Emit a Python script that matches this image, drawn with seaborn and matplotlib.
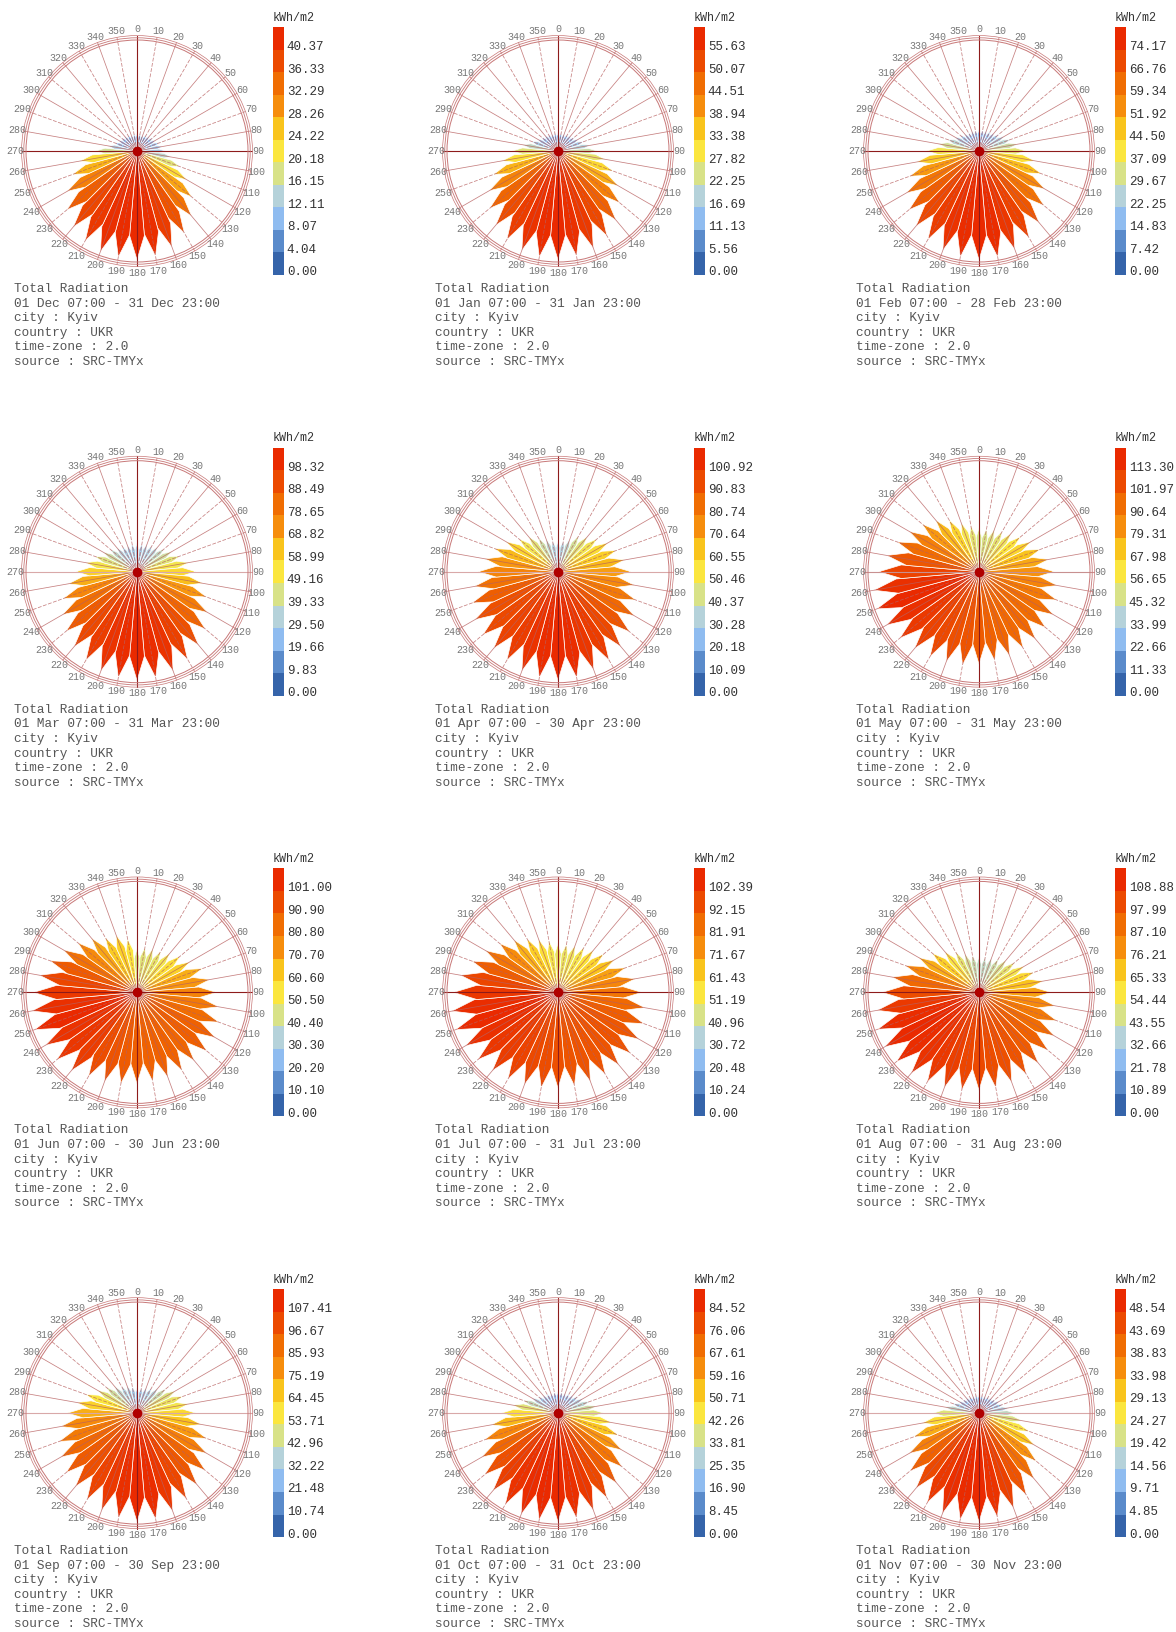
import numpy as np
import matplotlib
matplotlib.use("Agg")
import matplotlib.pyplot as plt
import seaborn as sns
from matplotlib.colors import ListedColormap, LinearSegmentedColormap, Normalize

sns.set_style("white")
plt.rcParams['font.family'] = ['Liberation Mono', 'DejaVu Sans Mono']

# directions of the petals (deg, clockwise from north)
directions = list(range(0, 360, 10))

# total radiation per direction, kWh/m2
dec_values = [6.5, 6.5, 6.5, 6.9, 7.3, 7.7, 8.1, 8.9, 9.7, 10.5, 12.9, 17.0, 21.4, 26.6, 31.5, 35.1, 37.9, 39.6,
              40.37, 40.0, 39.6, 38.4, 36.7, 33.9, 29.9, 25.4, 21.4, 15.3, 10.9, 8.9, 8.1, 7.7, 7.3, 6.9, 6.5, 6.5]
jan_values = [9.5, 9.5, 9.5, 10.0, 10.6, 11.1, 12.2, 13.9, 16.7, 20.0, 24.5, 30.0, 35.6, 41.2, 46.2, 50.1, 52.8, 54.5,
              55.63, 55.1, 54.0, 52.3, 49.5, 45.6, 40.6, 35.0, 28.9, 23.4, 18.4, 14.5, 12.2, 11.1, 10.6, 10.0, 9.5, 9.5]
feb_values = [14.8, 14.8, 14.8, 15.6, 16.3, 17.8, 20.0, 23.0, 26.7, 31.9, 38.6, 45.2, 51.9, 57.9, 63.8, 68.2, 71.2, 73.4,
              74.17, 73.4, 71.9, 69.7, 66.8, 62.3, 57.1, 50.4, 43.0, 35.6, 28.2, 23.0, 19.3, 17.1, 15.6, 14.8, 14.8, 14.8]
mar_values = [25.6, 25.6, 26.5, 27.5, 29.5, 32.4, 36.4, 41.3, 47.2, 53.1, 60.0, 66.9, 73.7, 80.6, 86.5, 91.4, 95.4, 97.3,
              98.32, 97.3, 95.4, 92.4, 88.5, 83.6, 77.7, 70.8, 62.9, 55.1, 47.2, 40.3, 35.4, 31.5, 28.5, 26.5, 25.6, 25.6]
apr_values = [28.3, 29.3, 32.3, 38.3, 42.4, 47.4, 53.5, 57.5, 62.6, 67.6, 71.7, 76.7, 81.7, 86.8, 90.8, 94.9, 96.9, 99.9,
              100.92, 99.9, 97.9, 94.9, 92.8, 90.8, 88.8, 84.8, 78.7, 73.7, 68.6, 62.6, 55.5, 47.4, 42.4, 36.3, 32.3, 29.3]
may_values = [45.3, 45.3, 46.5, 48.7, 52.1, 56.7, 62.3, 68.0, 73.6, 78.2, 82.7, 86.1, 89.5, 90.6, 91.8, 91.8, 92.9, 94.0,
              96.3, 98.6, 99.7, 102.0, 104.2, 107.6, 111.0, 113.30, 111.0, 104.2, 97.4, 90.6, 83.8, 77.0, 70.2, 62.3, 54.4, 48.7]
jun_values = [40.4, 42.4, 43.4, 44.4, 47.5, 52.5, 56.6, 64.6, 68.7, 73.7, 76.8, 80.8, 83.8, 84.8, 82.8, 83.8, 83.8, 83.8,
              84.8, 85.9, 87.9, 89.9, 94.9, 97.0, 98.0, 101.00, 99.0, 96.0, 91.9, 85.9, 78.8, 71.7, 65.7, 58.6, 56.6, 50.5]
jul_values = [46.1, 46.1, 47.1, 49.1, 52.2, 56.3, 61.4, 67.6, 73.7, 78.8, 82.9, 86.0, 88.1, 89.1, 89.1, 89.1, 89.1, 89.1,
              90.1, 91.1, 92.2, 94.2, 96.2, 98.3, 100.3, 102.39, 101.4, 98.3, 93.2, 86.0, 78.8, 71.7, 64.5, 58.4, 53.2, 49.1]
aug_values = [35.9, 35.9, 37.0, 39.2, 42.5, 46.8, 52.3, 58.8, 65.3, 71.9, 77.3, 82.7, 87.1, 90.4, 92.5, 94.7, 95.8, 96.9,
              98.0, 99.1, 101.3, 103.4, 105.6, 107.8, 108.88, 107.8, 103.4, 96.9, 88.2, 78.4, 69.7, 61.0, 53.4, 46.8, 41.4, 38.1]
sep_values = [24.7, 25.8, 26.9, 29.0, 32.2, 37.6, 44.0, 48.3, 51.6, 58.0, 64.4, 73.0, 79.5, 88.1, 92.4, 97.7, 103.1, 106.3,
              107.41, 105.3, 102.0, 98.8, 94.5, 91.3, 87.0, 81.6, 76.3, 68.7, 60.1, 53.7, 45.1, 39.7, 34.4, 31.1, 29.0, 26.9]
oct_values = [16.9, 16.9, 16.9, 17.7, 18.6, 20.3, 22.8, 26.2, 30.4, 35.5, 42.3, 49.9, 57.5, 65.1, 71.0, 76.1, 80.3, 82.8,
              84.52, 84.3, 83.7, 82.0, 78.6, 74.4, 68.5, 60.9, 52.4, 44.0, 35.5, 28.7, 23.7, 20.3, 18.6, 17.7, 16.9, 16.9]
nov_values = [8.3, 8.3, 8.3, 8.7, 9.2, 9.7, 10.7, 11.6, 13.6, 16.0, 19.4, 23.8, 28.6, 33.5, 38.3, 42.2, 45.1, 47.1,
              48.54, 48.3, 47.6, 46.1, 43.7, 40.3, 35.9, 31.1, 25.7, 20.4, 15.5, 12.6, 10.7, 9.7, 9.2, 8.7, 8.3, 8.3]

# legend labels, top to bottom
dec_ticks = ["40.37", "36.33", "32.29", "28.26", "24.22", "20.18", "16.15", "12.11", "8.07", "4.04", "0.00"]
jan_ticks = ["55.63", "50.07", "44.51", "38.94", "33.38", "27.82", "22.25", "16.69", "11.13", "5.56", "0.00"]
feb_ticks = ["74.17", "66.76", "59.34", "51.92", "44.50", "37.09", "29.67", "22.25", "14.83", "7.42", "0.00"]
mar_ticks = ["98.32", "88.49", "78.65", "68.82", "58.99", "49.16", "39.33", "29.50", "19.66", "9.83", "0.00"]
apr_ticks = ["100.92", "90.83", "80.74", "70.64", "60.55", "50.46", "40.37", "30.28", "20.18", "10.09", "0.00"]
may_ticks = ["113.30", "101.97", "90.64", "79.31", "67.98", "56.65", "45.32", "33.99", "22.66", "11.33", "0.00"]
jun_ticks = ["101.00", "90.90", "80.80", "70.70", "60.60", "50.50", "40.40", "30.30", "20.20", "10.10", "0.00"]
jul_ticks = ["102.39", "92.15", "81.91", "71.67", "61.43", "51.19", "40.96", "30.72", "20.48", "10.24", "0.00"]
aug_ticks = ["108.88", "97.99", "87.10", "76.21", "65.33", "54.44", "43.55", "32.66", "21.78", "10.89", "0.00"]
sep_ticks = ["107.41", "96.67", "85.93", "75.19", "64.45", "53.71", "42.96", "32.22", "21.48", "10.74", "0.00"]
oct_ticks = ["84.52", "76.06", "67.61", "59.16", "50.71", "42.26", "33.81", "25.35", "16.90", "8.45", "0.00"]
nov_ticks = ["48.54", "43.69", "38.83", "33.98", "29.13", "24.27", "19.42", "14.56", "9.71", "4.85", "0.00"]

periods = ["01 Dec 07:00 - 31 Dec 23:00", "01 Jan 07:00 - 31 Jan 23:00", "01 Feb 07:00 - 28 Feb 23:00",
           "01 Mar 07:00 - 31 Mar 23:00", "01 Apr 07:00 - 30 Apr 23:00", "01 May 07:00 - 31 May 23:00",
           "01 Jun 07:00 - 30 Jun 23:00", "01 Jul 07:00 - 31 Jul 23:00", "01 Aug 07:00 - 31 Aug 23:00",
           "01 Sep 07:00 - 30 Sep 23:00", "01 Oct 07:00 - 31 Oct 23:00", "01 Nov 07:00 - 30 Nov 23:00"]
month_values = [dec_values, jan_values, feb_values, mar_values, apr_values, may_values,
                jun_values, jul_values, aug_values, sep_values, oct_values, nov_values]
month_ticks = [dec_ticks, jan_ticks, feb_ticks, mar_ticks, apr_ticks, may_ticks,
               jun_ticks, jul_ticks, aug_ticks, sep_ticks, oct_ticks, nov_ticks]
info_lines = ["city : Kyiv", "country : UKR", "time-zone : 2.0", "source : SRC-TMYx"]

# legend colours, low -> high
legend_colors = ["#3564aa", "#5a8bcb", "#8fbcf0", "#b5d2da", "#d8e288", "#fbe63e",
                 "#f9c41c", "#f68d0c", "#f06d02", "#ec4a00", "#ea2a00"]
cmap = LinearSegmentedColormap.from_list("lb", legend_colors)

# east-west line shade per panel (some roses show it pale)
ew_colors = ["#8e1b1b", "#8e1b1b", "#8e1b1b", "#d9a8a8", "#d9a8a8", "#c89090",
             "#8e1b1b", "#8e1b1b", "#8e1b1b", "#d9a8a8", "#d9a8a8", "#d9a8a8"]

W, H = 1176, 1632
fig = plt.figure(figsize=(W / 100, H / 100), dpi=100)
fig.patch.set_facecolor("white")

spoke_col = "#b86060"
axis_col = "#8e1b1b"


def draw_panel(cx, cy, period, values, ticks, ew_col):
    vmax = float(ticks[0])
    R = vmax * 1.02
    s = R / 111.0
    half = 145
    ax = fig.add_axes([(cx - half) / W, 1 - (cy + half) / H, 2 * half / W, 2 * half / H])
    ax.set_xlim(-half * s, half * s)
    ax.set_ylim(-half * s, half * s)
    ax.set_aspect("equal")
    ax.axis("off")
    norm = Normalize(0, vmax)

    # petals
    for d, v in zip(directions, values):
        a = np.deg2rad([d - 5, d, d + 5])
        rr = np.array([0.78 * v, v, 0.78 * v])
        xs = np.concatenate([[0], rr * np.sin(a)])
        ys = np.concatenate([[0], rr * np.cos(a)])
        ax.fill(xs, ys, facecolor=cmap(norm(v)), edgecolor="white", lw=0.5, zorder=2)

    # spokes and compass labels
    for d in directions:
        a = np.deg2rad(d)
        ls = (0, (5, 2)) if (d // 10) % 2 else "-"
        ax.plot([0, 1.04 * R * np.sin(a)], [0, 1.04 * R * np.cos(a)], color=spoke_col,
                lw=0.55, ls=ls, alpha=0.8, zorder=3)
        ax.text(1.095 * R * np.sin(a), 1.095 * R * np.cos(a), str(d), ha="center", va="center",
                fontsize=7.2, color="#777777", zorder=4)
    ax.plot([-1.04 * R, 1.04 * R], [0, 0], color=ew_col, lw=0.8, zorder=3)
    ax.plot([0, 0], [-1.04 * R, 1.04 * R], color=axis_col, lw=0.8, zorder=3)
    for rr, lw in [(R, 0.7), (1.02 * R, 0.6), (1.04 * R, 0.5)]:
        ax.add_patch(plt.Circle((0, 0), rr, fill=False, ec="#c87878", lw=lw, zorder=3))
    ax.plot([0], [0], "o", color="#b00000", ms=6, zorder=5)

    # legend bar
    cax = fig.add_axes([(cx + 136) / W, 1 - (cy + 124) / H, 11 / W, 248 / H])
    idx = np.arange(len(ticks))[::-1].reshape(-1, 1)
    sns.heatmap(idx, ax=cax, cmap=ListedColormap(legend_colors), cbar=False,
                xticklabels=False, yticklabels=False)
    cax.yaxis.tick_right()
    cax.set_yticks(np.arange(len(ticks)) + 0.82)
    cax.set_yticklabels(ticks, rotation=0, fontsize=9, color="#333333")
    cax.tick_params(axis="y", length=0, pad=2)
    cax.text(0, -0.15, "kWh/m2", transform=cax.transData, ha="left", va="bottom",
             fontsize=8.5, color="#333333")

    # info text
    lines = ["Total Radiation", period] + info_lines
    for i, t in enumerate(lines):
        fig.text((cx - 123) / W, 1 - (cy + 138 + 14.6 * i) / H, t, ha="left", va="center",
                 fontsize=9.2, color="#555555")


for k in range(12):
    r, c = divmod(k, 3)
    draw_panel(137 + 421 * c, 151 + 420.7 * r, periods[k], month_values[k], month_ticks[k], ew_colors[k])

fig.savefig("out.png", dpi=100, facecolor="white")
